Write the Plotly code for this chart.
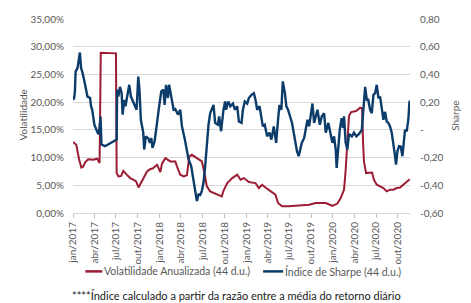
import plotly.graph_objects as go

# ---- Data ----
vol_dates = [
    "2017-01-01", "2017-01-15", "2017-01-27", "2017-02-05", "2017-02-13", "2017-02-22", "2017-03-06",
    "2017-03-27", "2017-04-13", "2017-04-23", "2017-04-28", "2017-05-30", "2017-07-01", "2017-07-04",
    "2017-07-11", "2017-07-23", "2017-08-01", "2017-08-18", "2017-08-30", "2017-09-12", "2017-09-24",
    "2017-10-04", "2017-10-16", "2017-10-28", "2017-11-09", "2017-11-22", "2017-12-05", "2017-12-21",
    "2018-01-04", "2018-01-11", "2018-01-25", "2018-02-15", "2018-03-08", "2018-03-15", "2018-03-29",
    "2018-04-12", "2018-04-26", "2018-05-06", "2018-05-17", "2018-06-07", "2018-06-28", "2018-07-09",
    "2018-07-19", "2018-08-02", "2018-08-23", "2018-09-20", "2018-09-27", "2018-10-13", "2018-11-03",
    "2018-11-24", "2018-12-08", "2018-12-22", "2019-01-12", "2019-02-09", "2019-02-23", "2019-03-09",
    "2019-03-23", "2019-04-13", "2019-05-04", "2019-05-15", "2019-06-01", "2019-06-29", "2019-07-27",
    "2019-09-01", "2019-09-23", "2019-10-21", "2019-12-02", "2019-12-30", "2020-01-20", "2020-02-03",
    "2020-02-17", "2020-02-24", "2020-03-02", "2020-03-09", "2020-03-18", "2020-04-08", "2020-04-25",
    "2020-05-03", "2020-05-07", "2020-05-11", "2020-05-20", "2020-06-06", "2020-06-14", "2020-06-22",
    "2020-07-04", "2020-07-18", "2020-08-01", "2020-08-15", "2020-08-29", "2020-09-12", "2020-09-26",
    "2020-10-10", "2020-10-24", "2020-11-07", "2020-11-20",
]
vol_values = [
    12.8, 12.3, 9.6, 8.2, 8.4, 9.2, 9.7,
    9.6, 9.8, 9.0, 28.9, 28.8, 28.8, 7.2,
    6.6, 6.7, 7.6, 6.8, 6.3, 6.0, 5.7,
    4.6, 5.5, 6.5, 7.5, 7.9, 8.1, 8.7,
    7.4, 8.9, 9.9, 9.3, 9.3, 8.4, 6.9,
    6.6, 6.8, 10.2, 10.5, 9.9, 9.3, 7.2,
    4.8, 3.9, 3.5, 3.0, 4.0, 5.4, 6.3,
    6.9, 6.0, 6.3, 5.6, 5.4, 4.5, 5.1,
    4.6, 3.9, 3.3, 1.8, 1.2, 1.2, 1.3,
    1.5, 1.5, 1.8, 1.8, 1.3, 1.7, 2.7,
    4.2, 7.8, 13.8, 17.5, 18.2, 18.4, 19.0,
    18.9, 13.0, 9.3, 7.2, 7.2, 7.3, 6.0,
    5.1, 4.8, 4.5, 3.9, 4.2, 4.2, 4.5,
    4.6, 5.1, 5.7, 6.1,
]

sharpe_dates = [
    "2017-01-01", "2017-01-06", "2017-01-09", "2017-01-12", "2017-01-20", "2017-01-30", "2017-02-04",
    "2017-02-09", "2017-02-18", "2017-02-23", "2017-03-03", "2017-03-14", "2017-03-18", "2017-03-23",
    "2017-04-01", "2017-04-15", "2017-04-20", "2017-04-27", "2017-05-01", "2017-05-16", "2017-05-30",
    "2017-06-13", "2017-06-27", "2017-07-04", "2017-07-06", "2017-07-11", "2017-07-18", "2017-07-25",
    "2017-07-29", "2017-08-05", "2017-08-10", "2017-08-19", "2017-08-26", "2017-09-02", "2017-09-12",
    "2017-09-19", "2017-09-26", "2017-10-03", "2017-10-08", "2017-10-14", "2017-10-24", "2017-10-28",
    "2017-11-04", "2017-11-14", "2017-11-21", "2017-11-27", "2017-12-02", "2017-12-11", "2017-12-21",
    "2017-12-30", "2018-01-08", "2018-01-17", "2018-01-22", "2018-01-28", "2018-02-05", "2018-02-10",
    "2018-02-19", "2018-03-01", "2018-03-08", "2018-03-19", "2018-03-29", "2018-04-05", "2018-04-16",
    "2018-04-26", "2018-05-03", "2018-05-14", "2018-05-24", "2018-05-31", "2018-06-07", "2018-06-14",
    "2018-06-21", "2018-06-28", "2018-07-05", "2018-07-12", "2018-07-19", "2018-07-26", "2018-08-02",
    "2018-08-09", "2018-08-16", "2018-08-23", "2018-09-03", "2018-09-09", "2018-09-17", "2018-09-27",
    "2018-10-04", "2018-10-08", "2018-10-17", "2018-10-26", "2018-11-06", "2018-11-14", "2018-11-24",
    "2018-12-01", "2018-12-12", "2018-12-18", "2018-12-26", "2019-01-05", "2019-01-12", "2019-01-23",
    "2019-02-02", "2019-02-09", "2019-02-16", "2019-02-26", "2019-03-06", "2019-03-12", "2019-03-20",
    "2019-03-30", "2019-04-09", "2019-04-17", "2019-04-27", "2019-05-07", "2019-05-15", "2019-05-21",
    "2019-05-29", "2019-06-04", "2019-06-13", "2019-06-19", "2019-06-26", "2019-07-06", "2019-07-13",
    "2019-07-20", "2019-07-27", "2019-08-03", "2019-08-10", "2019-08-17", "2019-08-23", "2019-09-02",
    "2019-09-09", "2019-09-16", "2019-09-23", "2019-09-30", "2019-10-07", "2019-10-14", "2019-10-21",
    "2019-10-28", "2019-11-07", "2019-11-15", "2019-11-25", "2019-12-02", "2019-12-13", "2019-12-20",
    "2019-12-30", "2020-01-06", "2020-01-13", "2020-01-17", "2020-01-24", "2020-01-30", "2020-02-07",
    "2020-02-13", "2020-02-17", "2020-02-24", "2020-03-02", "2020-03-09", "2020-03-21", "2020-03-30",
    "2020-04-09", "2020-04-20", "2020-05-02", "2020-05-08", "2020-05-16", "2020-05-23", "2020-05-29",
    "2020-06-06", "2020-06-13", "2020-06-20", "2020-06-27", "2020-07-04", "2020-07-11", "2020-07-18",
    "2020-07-25", "2020-08-01", "2020-08-08", "2020-08-15", "2020-08-22", "2020-08-29", "2020-09-05",
    "2020-09-12", "2020-09-19", "2020-09-23", "2020-09-29", "2020-10-06", "2020-10-13", "2020-10-20",
    "2020-10-24", "2020-10-31", "2020-11-07", "2020-11-14", "2020-11-18", "2020-11-20",
]
sharpe_values = [
    0.217, 0.23, 0.277, 0.42, 0.445, 0.558, 0.445,
    0.42, 0.35, 0.30, 0.24, 0.23, 0.17, 0.145,
    0.037, -0.022, -0.03, 0.097, -0.106, -0.118, -0.106,
    -0.094, -0.082, -0.07, 0.29, 0.24, 0.31, 0.265,
    0.11, 0.217, 0.17, 0.253, 0.325, 0.24, 0.205,
    0.17, 0.145, 0.385, 0.29, 0.073, -0.02, -0.142,
    -0.047, -0.06, -0.094, -0.06, -0.13, -0.082, 0.073,
    0.17, 0.277, 0.29, 0.18, 0.325, 0.23, 0.325,
    0.24, 0.145, 0.15, 0.11, 0.145, 0.025, -0.058,
    -0.142, -0.214, -0.262, -0.382, -0.442, -0.514, -0.466,
    -0.47, -0.44, -0.38, -0.26, -0.094, 0.037, 0.12,
    0.145, 0.18, 0.05, 0.037, 0.097, -0.01, 0.145,
    0.205, 0.145, 0.205, 0.17, 0.19, 0.145, 0.17,
    0.06, 0.05, 0.145, 0.205, 0.19, 0.23, 0.253,
    0.265, 0.217, 0.145, 0.17, 0.073, 0.025, 0.037,
    -0.047, -0.02, -0.07, 0.025, -0.094, 0.073, 0.18,
    0.145, 0.35, 0.265, 0.17, 0.145, 0.097, 0.05,
    -0.02, -0.094, -0.155, -0.19, -0.142, -0.094, -0.058,
    0.014, 0.073, 0.025, 0.12, 0.19, 0.05, 0.097,
    0.145, 0.037, 0.097, 0.12, -0.02, 0.05, 0.0,
    -0.094, -0.047, -0.142, -0.274, -0.094, 0.0, 0.085,
    0.014, 0.097, -0.094, -0.142, -0.03, -0.047, -0.02,
    -0.047, -0.03, 0.0, 0.145, 0.31, 0.217, 0.217,
    0.145, 0.12, 0.253, 0.265, 0.325, 0.23, 0.24,
    0.145, 0.073, 0.13, 0.06, 0.05, 0.025, -0.02,
    -0.094, -0.19, -0.25, -0.155, -0.118, -0.12, -0.19,
    -0.12, 0.0, -0.01, 0.073, 0.19, 0.21,
]

x_tick_dates = [
    "2017-01-01", "2017-04-01", "2017-07-01", "2017-10-01",
    "2018-01-01", "2018-04-01", "2018-07-01", "2018-10-01",
    "2019-01-01", "2019-04-01", "2019-07-01", "2019-10-01",
    "2020-01-01", "2020-04-01", "2020-07-01", "2020-10-01",
]
x_tick_labels = [
    "jan/2017", "abr/2017", "jul/2017", "out/2017",
    "jan/2018", "abr/2018", "jul/2018", "out/2018",
    "jan/2019", "abr/2019", "jul/2019", "out/2019",
    "jan/2020", "abr/2020", "jul/2020", "out/2020",
]
left_tick_vals = [0, 5, 10, 15, 20, 25, 30, 35]
left_tick_labels = ["0,00%", "5,00%", "10,00%", "15,00%", "20,00%", "25,00%", "30,00%", "35,00%"]
right_tick_vals = [-0.6, -0.4, -0.2, 0.0, 0.2, 0.4, 0.6, 0.8]
right_tick_labels = ["-0,60", "-0,40", "-0,20", "-", "0,20", "0,40", "0,60", "0,80"]

series_names = ["Volatilidade Anualizada (44 d.u.)", "Índice de Sharpe (44 d.u.)"]
footnote = "****Índice calculado a partir da razão entre a média do retorno diário"

RED = "#9C1C33"
BLUE = "#0C3C6A"
GRAY_TXT = "#595959"
FONT = "Lato, Carlito, 'Liberation Sans', sans-serif"

fig = go.Figure()
fig.add_trace(go.Scatter(
    x=vol_dates, y=vol_values, name=series_names[0], mode="lines",
    line=dict(color=RED, width=2), yaxis="y", showlegend=False,
))
fig.add_trace(go.Scatter(
    x=sharpe_dates, y=sharpe_values, name=series_names[1], mode="lines",
    line=dict(color=BLUE, width=2.4), yaxis="y2", showlegend=False,
))

# Legend drawn as key lines + labels below the plot (Excel style short keys)
LEG_Y = -0.301
legend_shapes = [
    dict(type="line", xref="paper", yref="paper", x0=0.0365, x1=0.0869, y0=LEG_Y, y1=LEG_Y,
         line=dict(color=RED, width=2.5)),
    dict(type="line", xref="paper", yref="paper", x0=0.5642, x1=0.6235, y0=LEG_Y, y1=LEG_Y,
         line=dict(color=BLUE, width=2.5)),
]
legend_annots = [
    dict(text=series_names[0], xref="paper", yref="paper", x=0.0875, y=LEG_Y,
         xanchor="left", yanchor="middle", showarrow=False,
         font=dict(size=10.5, color=GRAY_TXT)),
    dict(text=series_names[1], xref="paper", yref="paper", x=0.6245, y=LEG_Y,
         xanchor="left", yanchor="middle", showarrow=False,
         font=dict(size=10.5, color=GRAY_TXT)),
]

fig.update_layout(
    width=471, height=303,
    margin=dict(l=73, r=61, t=19, b=90, autoexpand=False),
    paper_bgcolor="white", plot_bgcolor="white",
    font=dict(family=FONT, size=10, color=GRAY_TXT),
    showlegend=False,
    xaxis=dict(
        type="date", range=["2017-01-01", "2020-11-21"],
        tickmode="array", tickvals=x_tick_dates, ticktext=x_tick_labels,
        tickangle=-90, ticks="outside", ticklen=4, tickcolor="#BFBFBF",
        showline=True, linecolor="#D9D9D9", linewidth=1,
        showgrid=False, zeroline=False,
        tickfont=dict(size=10, color=GRAY_TXT),
    ),
    yaxis=dict(
        range=[0, 35], tickmode="array", tickvals=left_tick_vals, ticktext=left_tick_labels,
        showgrid=True, gridcolor="#D9D9D9", gridwidth=1, zeroline=False,
        showline=False, ticks="", ticklabelstandoff=8,
        tickfont=dict(size=10, color=GRAY_TXT),
    ),
    yaxis2=dict(
        range=[-0.6, 0.8], overlaying="y", side="right",
        tickmode="array", tickvals=right_tick_vals, ticktext=right_tick_labels,
        showgrid=False, zeroline=False, showline=False, ticks="", ticklabelstandoff=9,
        tickfont=dict(size=10, color=GRAY_TXT),
    ),
    shapes=legend_shapes,
    annotations=[
        dict(text="Volatilidade", textangle=-90, xref="paper", yref="paper",
             x=-0.147, y=0.505, xanchor="center", yanchor="middle", showarrow=False,
             font=dict(size=10, color=GRAY_TXT)),
        dict(text="Sharpe", textangle=-90, xref="paper", yref="paper",
             x=1.133, y=0.5, xanchor="center", yanchor="middle", showarrow=False,
             font=dict(size=10, color=GRAY_TXT)),
        dict(text=footnote, xref="paper", yref="paper",
             x=-0.008, y=-0.424, xanchor="left", yanchor="middle", showarrow=False,
             font=dict(size=11, color="#1a1a1a")),
    ] + legend_annots,
)

fig.write_html(
    "out.html",
    config={"displayModeBar": False},
    post_script="document.body.style.margin='0';document.body.style.padding='0';",
)
